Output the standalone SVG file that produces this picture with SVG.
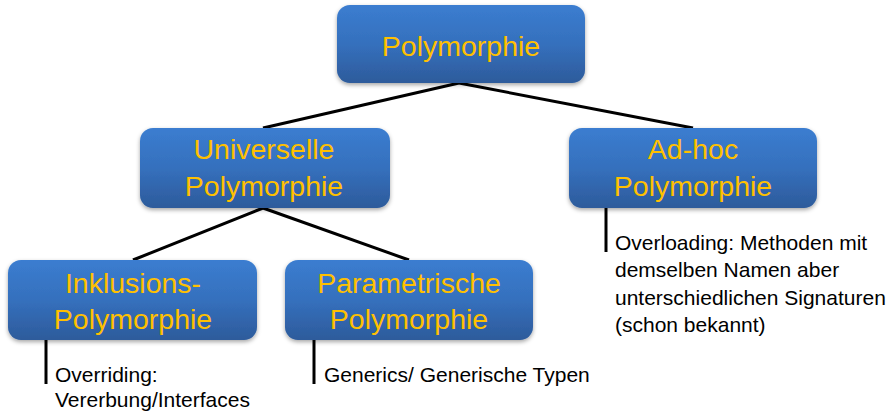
<svg xmlns="http://www.w3.org/2000/svg" width="892" height="413" viewBox="0 0 892 413">
<style>
.box{fill:url(#g);filter:url(#sh)}
.t{font-family:"Liberation Sans",Arial,sans-serif;font-size:28.5px;fill:#FFC000;text-anchor:middle}
.n{font-family:"Liberation Sans",Arial,sans-serif;font-size:21px;fill:#000}
.c{stroke:#000;stroke-width:3;fill:none}
</style>
<defs>
<linearGradient id="g" x1="0" y1="0" x2="0" y2="1">
<stop offset="0" stop-color="#3b7dd0"/>
<stop offset="0.5" stop-color="#3570bd"/>
<stop offset="1" stop-color="#2d5b9b"/>
</linearGradient>
<filter id="sh" x="-10%" y="-10%" width="120%" height="130%">
<feDropShadow dx="0" dy="2" stdDeviation="2" flood-color="#000" flood-opacity="0.35"/>
</filter>
</defs>
<g id="connectors">
<line class="c" x1="459" y1="83" x2="263" y2="128"/>
<line class="c" x1="459" y1="83" x2="693" y2="128"/>
<line class="c" x1="263" y1="208" x2="133" y2="260"/>
<line class="c" x1="263" y1="208" x2="409" y2="260"/>
<line class="c" x1="46" y1="340" x2="46" y2="384"/>
<line class="c" x1="314" y1="340" x2="314" y2="384"/>
<line class="c" x1="606" y1="208" x2="606" y2="252"/>
</g>
<g id="polymorphie">
<rect class="box" x="337" y="5" width="248" height="78" rx="13"/>
<text class="t" x="461" y="56">Polymorphie</text>
</g>
<g id="universelle">
<rect class="box" x="140" y="128" width="250" height="80" rx="13"/>
<text class="t" x="264" y="159">Universelle</text>
<text class="t" x="264" y="196">Polymorphie</text>
</g>
<g id="adhoc">
<rect class="box" x="569" y="128" width="248" height="80" rx="13"/>
<text class="t" x="693" y="159">Ad-hoc</text>
<text class="t" x="693" y="196">Polymorphie</text>
</g>
<g id="inklusion">
<rect class="box" x="8" y="260" width="249" height="80" rx="13"/>
<text class="t" x="133" y="293">Inklusions-</text>
<text class="t" x="133" y="329">Polymorphie</text>
</g>
<g id="parametrisch">
<rect class="box" x="285" y="260" width="248" height="80" rx="13"/>
<text class="t" x="409" y="293">Parametrische</text>
<text class="t" x="409" y="329">Polymorphie</text>
</g>
<g id="notes">
<text class="n" x="55" y="382">Overriding:</text>
<text class="n" x="55" y="407">Vererbung/Interfaces</text>
<text class="n" x="324" y="382">Generics/ Generische Typen</text>
<text class="n" x="615" y="250">Overloading: Methoden mit</text>
<text class="n" x="615" y="277">demselben Namen aber</text>
<text class="n" x="615" y="305">unterschiedlichen Signaturen</text>
<text class="n" x="615" y="332">(schon bekannt)</text>
</g>
</svg>
